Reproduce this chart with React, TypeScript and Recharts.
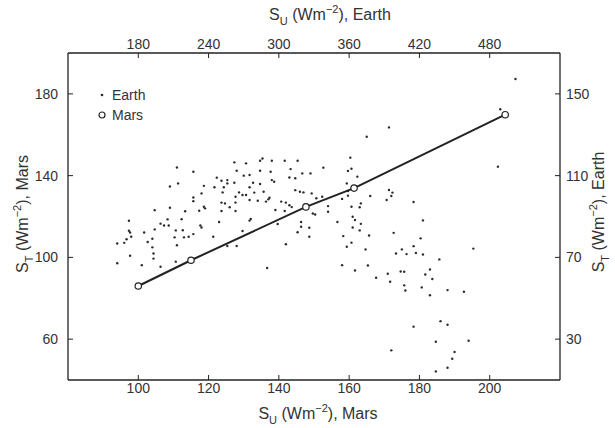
import { Label, Legend, Scatter, ScatterChart, XAxis, YAxis } from 'recharts';

// Earth points (top / right axes, Wm^-2)
const earthSU = [
  213, 227, 207, 214, 236, 227, 227, 234, 232, 236, 237, 194, 207, 220, 172, 217, 205, 199, 202, 194,
  185, 172, 173, 206, 212, 218, 233, 234, 162, 170, 168, 174, 188, 192, 211, 219, 223, 227, 213, 192,
  193, 173, 193, 162, 183, 199, 212,
  286, 284, 294, 305, 316, 262, 272, 338, 310, 264, 293, 284, 247, 270, 275, 320, 327, 309, 314, 251,
  256, 256, 294, 296, 278, 284, 262, 245, 253, 314, 318, 321, 328, 275, 252, 266, 269, 272, 279, 287,
  337, 332, 263, 275, 292, 291, 289, 282, 306, 309, 311, 302, 254, 251, 263, 258, 263, 251, 297, 305,
  329, 331, 342, 342, 276, 275, 249, 299, 319, 319, 326, 269, 316, 326, 244, 306, 256, 264,
  394, 375, 361, 362, 359, 367, 358, 359, 359, 354, 378, 394, 397, 396, 392, 370, 362, 369, 415, 363,
  365, 350, 370, 423, 363, 369, 398, 355, 377, 421, 362, 358, 374, 405, 415,
  502, 489, 487, 466,
  400, 409, 417, 423, 437, 354, 365, 376, 383, 393, 395, 404, 407, 407, 408, 422, 425, 429, 431, 429,
  444, 458, 438, 444, 415, 434, 462, 396, 450, 448, 444, 434,
  290,
];
const earthST = [
  114.0, 111.9, 104.7, 106.2, 105.0, 99.3, 97.5, 101.3, 92.8, 94.8, 94.0, 93.1, 94.3, 92.6, 87.9, 88.7, 88.6, 86.5, 85.6, 83.7,
  82.2, 83.0, 82.2, 85.6, 83.2, 83.3, 85.6, 84.6, 76.8, 78.9, 77.1, 80.1, 77.5, 79.1, 79.8, 79.8, 80.1, 81.4, 75.9, 74.9,
  71.9, 70.8, 69.4, 67.1, 66.2, 65.4, 67.9,
  118.4, 117.3, 117.3, 117.3, 117.3, 116.5, 116.0, 113.9, 113.2, 112.4, 111.9, 112.4, 109.0, 110.0, 110.3, 111.1, 111.1, 109.1, 108.7, 107.5,
  107.8, 106.2, 107.8, 107.0, 106.5, 105.9, 106.5, 104.3, 104.3, 102.9, 102.1, 101.8, 101.3, 104.3, 101.8, 101.8, 100.5, 100.5, 101.7, 102.1,
  99.7, 98.9, 99.7, 98.1, 99.2, 98.4, 97.3, 97.7, 96.8, 95.5, 94.6, 97.3, 96.4, 96.8, 96.8, 94.5, 92.7, 92.7, 93.2, 92.7,
  91.5, 91.0, 95.1, 92.3, 88.8, 88.0, 87.3, 86.3, 87.3, 85.0, 84.5, 82.9, 82.3, 80.1, 80.1, 76.4, 75.6, 75.6,
  133.6, 129.0, 118.8, 113.4, 112.3, 109.5, 106.2, 102.5, 100.2, 98.6, 100.0, 103.0, 101.7, 100.0, 98.1, 96.4, 94.8, 94.5, 97.1, 89.9,
  88.3, 87.3, 86.4, 88.1, 84.6, 83.2, 82.0, 80.4, 80.7, 79.3, 77.2, 75.2, 73.9, 73.9, 75.5,
  157.3, 142.5, 114.4, 74.3,
  71.9, 71.6, 72.2, 71.4, 69.0, 66.2, 63.6, 66.0, 60.0, 62.0, 58.1, 63.1, 63.0, 56.3, 53.8, 55.3, 61.6, 64.1, 59.4, 51.5,
  54.0, 53.2, 38.8, 37.0, 36.1, 28.7, 29.2, 24.5, 23.7, 20.4, 16.0, 14.2,
  64.8,
];

// Mars points (bottom / left axes)
const marsSU = [100, 115, 147.7, 161.4, 204.4];
const marsST = [86, 98.6, 124.7, 133.9, 169.8];

const marsTicksX = [100, 120, 140, 160, 180, 200];
const earthTicksX = [180, 240, 300, 360, 420, 480];
const marsTicksY = [60, 100, 140, 180];
const earthTicksY = [30, 70, 110, 150];

const earthData = earthSU.map((x, i) => ({ x, y: earthST[i] }));
const marsData = marsSU.map((x, i) => ({ x, y: marsST[i] }));

const FONT = '"Liberation Sans", Arial, sans-serif';
const INK = '#222';
const TXT = '#333';
const tickStyle = { fill: TXT, fontSize: 14, fontFamily: FONT };

// S_sub (Wm^-2), tail  — tspans for the sub/superscripts
function AxisTitle({ x, y, sub, tail, rotate }: { x: number; y: number; sub: string; tail: string; rotate?: boolean }) {
  return (
    <text
      x={x}
      y={y}
      textAnchor="middle"
      fontFamily={FONT}
      fontSize={16}
      fill={TXT}
      transform={rotate ? `rotate(-90 ${x} ${y})` : undefined}
    >
      <tspan>S</tspan>
      <tspan dy={5} fontSize={11}>{sub}</tspan>
      <tspan dy={-5}> (Wm</tspan>
      <tspan dy={-7} fontSize={11}>−2</tspan>
      <tspan dy={7}>), {tail}</tspan>
    </text>
  );
}

const EarthDot = (p: any) => <circle cx={p.cx} cy={p.cy} r={1.2} fill="#2a2a2a" />;
const MarsRing = (p: any) => (
  <circle cx={p.cx} cy={p.cy} r={3.2} fill="#fff" stroke={INK} strokeWidth={1.2} />
);

function LegendBox() {
  const row = { display: 'flex', alignItems: 'center', height: 20 } as const;
  return (
    <div style={{ fontFamily: FONT, fontSize: 14, color: TXT }}>
      <div style={row}>
        <svg width={12} height={12} style={{ marginRight: 4 }}>
          <circle cx={6} cy={6} r={1.3} fill="#2a2a2a" />
        </svg>
        Earth
      </div>
      <div style={row}>
        <svg width={12} height={12} style={{ marginRight: 4 }}>
          <circle cx={6} cy={6} r={3} fill="#fff" stroke={INK} strokeWidth={1.2} />
        </svg>
        Mars
      </div>
    </div>
  );
}

export default function App() {
  return (
    <div style={{ position: 'absolute', left: 0, top: 0, background: '#fff' }}>
      <ScatterChart width={615} height={428} margin={{ top: 0, right: 0, bottom: 0, left: 0 }}>
        <XAxis
          xAxisId="mars"
          dataKey="x"
          type="number"
          orientation="bottom"
          domain={[80, 220]}
          ticks={marsTicksX}
          height={48}
          tickSize={-5}
          tickMargin={8}
          tick={tickStyle}
          axisLine={{ stroke: INK, strokeWidth: 1.3 }}
          tickLine={{ stroke: INK }}
        >
          <Label content={() => <AxisTitle x={318} y={419} sub="U" tail="Mars" />} />
        </XAxis>
        <XAxis
          xAxisId="earth"
          dataKey="x"
          type="number"
          orientation="top"
          domain={[120, 540]}
          ticks={earthTicksX}
          height={53}
          tickSize={-5}
          tickMargin={9}
          tick={tickStyle}
          axisLine={{ stroke: INK, strokeWidth: 1.3 }}
          tickLine={{ stroke: INK }}
        >
          <Label content={() => <AxisTitle x={330} y={20} sub="U" tail="Earth" />} />
        </XAxis>
        <YAxis
          yAxisId="mars"
          dataKey="y"
          type="number"
          orientation="left"
          domain={[40, 200]}
          ticks={marsTicksY}
          width={68}
          tickSize={-5}
          tickMargin={15}
          tick={tickStyle}
          axisLine={{ stroke: INK, strokeWidth: 1.3 }}
          tickLine={{ stroke: INK }}
        >
          <Label content={() => <AxisTitle x={28} y={214} sub="T" tail="Mars" rotate />} />
        </YAxis>
        <YAxis
          yAxisId="earth"
          dataKey="y"
          type="number"
          orientation="right"
          domain={[10, 170]}
          ticks={earthTicksY}
          width={55}
          tickSize={-5}
          tickMargin={11}
          tick={tickStyle}
          axisLine={{ stroke: INK, strokeWidth: 1.3 }}
          tickLine={{ stroke: INK }}
        >
          <Label content={() => <AxisTitle x={604} y={212} sub="T" tail="Earth" rotate />} />
        </YAxis>
        <Legend
          layout="vertical"
          align="center"
          verticalAlign="middle"
          wrapperStyle={{ left: 96, top: 85, width: 80 }}
          content={() => <LegendBox />}
        />
        <Scatter
          name="Earth"
          data={earthData}
          xAxisId="earth"
          yAxisId="earth"
          shape={EarthDot}
          isAnimationActive={false}
        />
        <Scatter
          name="Mars"
          data={marsData}
          xAxisId="mars"
          yAxisId="mars"
          line={{ stroke: INK, strokeWidth: 2 }}
          shape={MarsRing}
          isAnimationActive={false}
        />
      </ScatterChart>
    </div>
  );
}
